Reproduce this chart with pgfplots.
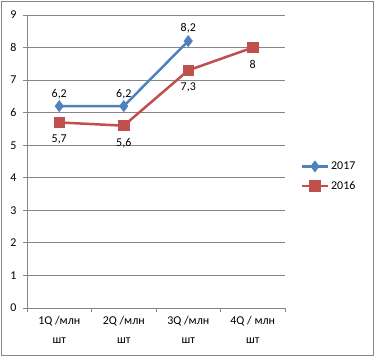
\documentclass[border=0pt]{standalone}
\usepackage{fontspec}
\setmainfont{Carlito}
\usepackage{pgfplots}
\pgfplotsset{compat=1.18}
\definecolor{sblue}{HTML}{4F81BD}
\definecolor{sred}{HTML}{C0504D}
\definecolor{gridc}{HTML}{868686}
\begin{document}
\begin{tikzpicture}
\useasboundingbox (-27bp,-48bp) rectangle (349bp,308bp);
\draw[gridc, line width=0.9bp] (-26bp,-47bp) rectangle (346.5bp,307bp);
\begin{axis}[
  at={(0,0)}, anchor=south west,
  scale only axis, width=258bp, height=293bp,
  xmin=-0.5, xmax=3.5, ymin=0, ymax=9,
  axis x line*=bottom, axis y line*=left,
  axis line style={gridc, line width=0.8bp, -},
  xtick={0,1,2,3},
  xticklabels={{1Q /млн\\шт},{2Q /млн\\шт},{3Q /млн\\шт},{4Q / млн\\шт}},
  xticklabel style={align=center, font=\fontsize{12}{19}\selectfont, yshift=-1bp},
  major x tick style={draw=none},
  minor xtick={-0.5,0.5,1.5,2.5,3.5},
  minor x tick style={gridc, line width=0.8bp},
  minor tick length=4bp,
  ytick={0,...,9},
  yticklabel style={font=\fontsize{12}{12}\selectfont, xshift=-3bp},
  major tick length=4bp,
  y tick style={gridc, line width=0.8bp},
  tick align=outside,
  ymajorgrids, grid style={gridc, line width=0.8bp},
  /pgf/number format/assume math mode=true,
  /pgf/number format/use comma,
  legend style={draw=none, fill=none, at={(1.06,0.45)}, anchor=west,
    font=\fontsize{12}{12}\selectfont, row sep=6bp, inner sep=0pt},
  legend cell align=left,
  legend image code/.code={\draw[mark repeat=2, mark phase=2] plot coordinates {(0bp,0bp) (13bp,0bp) (26bp,0bp)};},
  nodes near coords,
  every node near coord/.append style={font=\fontsize{12}{12}\selectfont, text=black},
  clip=false,
]
\addplot[sblue, line width=2.5bp, mark=diamond*, mark size=4bp, mark options={fill=sblue},
  every node near coord/.append style={anchor=south, yshift=3bp}]
  coordinates {(0,6.2) (1,6.2) (2,8.2)};
\addlegendentry{2017}
\addplot[sred, line width=2.5bp, mark=square*, mark size=4.5bp, mark options={fill=sred},
  every node near coord/.append style={anchor=north, yshift=-8bp}]
  coordinates {(0,5.7) (1,5.6) (2,7.3) (3,8)};
\addlegendentry{2016}
\end{axis}
\end{tikzpicture}
\end{document}
